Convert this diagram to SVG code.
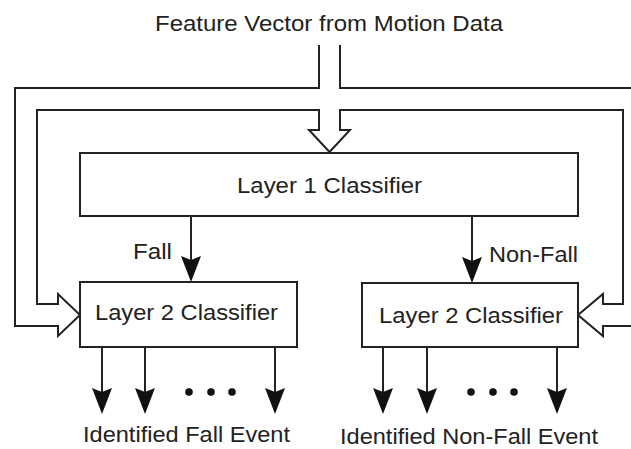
<svg xmlns="http://www.w3.org/2000/svg" width="631" height="449" viewBox="0 0 631 449">
  <style>
    .box { fill: #ffffff; stroke: #222222; stroke-width: 2; }
    .ln { fill: none; stroke: #222222; stroke-width: 2; stroke-linejoin: miter; }
    .arr { fill: none; stroke: #222222; stroke-width: 2; marker-end: url(#ah); }
    .t { font-family: "Liberation Sans", Arial, sans-serif; font-size: 22px; fill: #222222; }
    .dot { fill: #111111; }
  </style>
  <defs>
    <marker id="ah" markerUnits="userSpaceOnUse" viewBox="0 0 26 20" markerWidth="26" markerHeight="20" refX="14" refY="10" orient="auto">
      <path d="M0,0 L4,10 L0,20 L26,10 Z" fill="#111111"/>
    </marker>
  </defs>
  <rect width="631" height="449" fill="#ffffff"/>

  <text class="t" x="155" y="31" textLength="348" lengthAdjust="spacingAndGlyphs">Feature Vector from Motion Data</text>

  <g id="connectors">
    <path class="ln" d="M631,88 H340 V45"/>
    <path class="ln" d="M319,45 V88 H15 V326 H58 V336 L80,315 L58,294 V304 H37 V110 H319 V130 H309 L329.5,152 L350,130 H340 V110 H623 V304 H603 V294 L578,315 L603,336 V326 H631"/>
    <line class="arr" x1="191" y1="216" x2="191" y2="270"/>
    <line class="arr" x1="472" y1="216" x2="472" y2="271"/>
    <line class="arr" x1="102" y1="347" x2="102" y2="402"/>
    <line class="arr" x1="145" y1="347" x2="145" y2="402"/>
    <line class="arr" x1="275" y1="347" x2="275" y2="402"/>
    <line class="arr" x1="383" y1="347" x2="383" y2="402"/>
    <line class="arr" x1="427" y1="347" x2="427" y2="402"/>
    <line class="arr" x1="557" y1="347" x2="557" y2="402"/>
    <circle class="dot" cx="189" cy="392" r="3.8"/>
    <circle class="dot" cx="211" cy="392" r="3.8"/>
    <circle class="dot" cx="232" cy="392" r="3.8"/>
    <circle class="dot" cx="471" cy="392" r="3.8"/>
    <circle class="dot" cx="493" cy="392" r="3.8"/>
    <circle class="dot" cx="514" cy="392" r="3.8"/>
    <text class="t" x="133" y="259" textLength="39" lengthAdjust="spacingAndGlyphs">Fall</text>
    <text class="t" x="489" y="262" textLength="89" lengthAdjust="spacingAndGlyphs">Non-Fall</text>
  </g>

  <g id="layer1">
    <rect class="box" x="80" y="153" width="498" height="63"/>
    <text class="t" x="237" y="193" textLength="185" lengthAdjust="spacingAndGlyphs">Layer 1 Classifier</text>
  </g>

  <g id="layer2-fall">
    <rect class="box" x="80" y="282" width="217" height="65"/>
    <text class="t" x="95" y="320" textLength="183" lengthAdjust="spacingAndGlyphs">Layer 2 Classifier</text>
  </g>

  <g id="layer2-nonfall">
    <rect class="box" x="362" y="283" width="216" height="64"/>
    <text class="t" x="379" y="323" textLength="184" lengthAdjust="spacingAndGlyphs">Layer 2 Classifier</text>
  </g>

  <g id="out-fall">
    <text class="t" x="83" y="442" textLength="207" lengthAdjust="spacingAndGlyphs">Identified Fall Event</text>
  </g>
  <g id="out-nonfall">
    <text class="t" x="340" y="444" textLength="258" lengthAdjust="spacingAndGlyphs">Identified Non-Fall Event</text>
  </g>
</svg>
